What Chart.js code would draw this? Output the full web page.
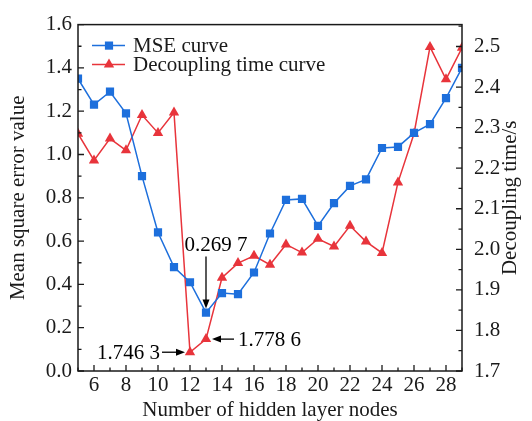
<!DOCTYPE html>
<html>
<head>
<meta charset="utf-8">
<script src="https://cdn.jsdelivr.net/npm/chart.js@4.4.1/dist/chart.umd.min.js"></script>
<style>
  html, body { margin: 0; padding: 0; background: #fff; }
  #wrap { width: 532px; height: 421px; }
</style>
</head>
<body>
<div id="wrap"><canvas id="chart"></canvas></div>
<script>
// number of hidden layer nodes
const nodes = [5, 6, 7, 8, 9, 10, 11, 12, 13, 14, 15, 16, 17, 18, 19, 20, 21, 22, 23, 24, 25, 26, 27, 28, 29];
// MSE (left axis)
const mseValues = [1.35, 1.23, 1.29, 1.19, 0.90, 0.64, 0.48, 0.41, 0.2697, 0.36, 0.355, 0.455, 0.635, 0.79, 0.795,
    0.67, 0.775, 0.855, 0.885, 1.03, 1.035, 1.10, 1.14, 1.26, 1.40];
// decoupling time in s (right axis)
const timeValues = [2.285, 2.219, 2.273, 2.244, 2.331, 2.287, 2.337, 1.7463, 1.7786, 1.930, 1.966, 1.984, 1.962,
    2.012, 1.992, 2.026, 2.007, 2.058, 2.019, 1.991, 2.165, 2.285, 2.499, 2.419, 2.497];

const xTicks = [6, 8, 10, 12, 14, 16, 18, 20, 22, 24, 26, 28];
const mseTicks = [0, 0.2, 0.4, 0.6, 0.8, 1.0, 1.2, 1.4, 1.6];
const timeTicks = [1.7, 1.8, 1.9, 2.0, 2.1, 2.2, 2.3, 2.4, 2.5];

const rightTitle = 'Decoupling time/s';

// labelled points
const callouts = [
    { x: 13, y: 0.2697, axis: 'y', text: '0.269 7', dir: 'down' },
    { x: 12, y: 1.7463, axis: 'y2', text: '1.746 3', dir: 'right' },
    { x: 13, y: 1.7786, axis: 'y2', text: '1.778 6', dir: 'left' }
];

const BLUE = '#1d6fdc';
const RED = '#e8343b';
const INK = '#1a1a1a';
const FONT = '21px "Liberation Serif", "Times New Roman", serif';

Chart.defaults.font.family = '"Liberation Serif", "Times New Roman", serif';
Chart.defaults.font.size = 21;
Chart.defaults.color = INK;

function minorOf(ticks, min, max) {
    const out = [];
    const step = ticks[1] - ticks[0];
    const first = ticks[0] - step / 2;
    for (let v = first; v <= max + 1e-9; v += step) {
        if (v >= min - 1e-9) out.push(v);
    }
    return out;
}

function drawArrow(ctx, x1, y1, x2, y2) {
    const ang = Math.atan2(y2 - y1, x2 - x1);
    const len = 9, half = 3.5;
    ctx.beginPath();
    ctx.moveTo(x1, y1);
    ctx.lineTo(x2 - Math.cos(ang) * len * 0.8, y2 - Math.sin(ang) * len * 0.8);
    ctx.stroke();
    ctx.beginPath();
    ctx.moveTo(x2, y2);
    ctx.lineTo(x2 - Math.cos(ang) * len - Math.sin(ang) * half, y2 - Math.sin(ang) * len + Math.cos(ang) * half);
    ctx.lineTo(x2 - Math.cos(ang) * len + Math.sin(ang) * half, y2 - Math.sin(ang) * len - Math.cos(ang) * half);
    ctx.closePath();
    ctx.fill();
}

// frame, inward tick marks, right title, legend and callouts
const decorPlugin = {
    id: 'decor',
    afterDatasetsDraw(chart) {
        const ctx = chart.ctx;
        const a = chart.chartArea;
        const sx = chart.scales.x, sy = chart.scales.y, sy2 = chart.scales.y2;
        ctx.save();
        ctx.strokeStyle = INK;
        ctx.fillStyle = INK;

        // ticks
        ctx.lineWidth = 1.3;
        ctx.beginPath();
        const tick = (list, len, fn) => list.forEach(v => fn(v, len));
        const onX = (v, len) => { const p = sx.getPixelForValue(v); ctx.moveTo(p, a.bottom); ctx.lineTo(p, a.bottom - len); };
        const onY = (v, len) => { const p = sy.getPixelForValue(v); ctx.moveTo(a.left, p); ctx.lineTo(a.left + len, p); };
        const onY2 = (v, len) => { const p = sy2.getPixelForValue(v); ctx.moveTo(a.right, p); ctx.lineTo(a.right - len, p); };
        tick(xTicks, 6, onX);
        tick(minorOf(xTicks, sx.min, sx.max), 3.5, onX);
        tick(mseTicks, 6, onY);
        tick(minorOf(mseTicks, sy.min, sy.max), 3.5, onY);
        tick(timeTicks, 6, onY2);
        tick(minorOf(timeTicks, sy2.min, sy2.max), 3.5, onY2);
        ctx.stroke();

        // frame
        ctx.lineWidth = 1.5;
        ctx.strokeRect(a.left, a.top, a.right - a.left, a.bottom - a.top);

        ctx.font = FONT;
        ctx.textBaseline = 'middle';

        // right axis title, read bottom to top
        ctx.save();
        ctx.translate(sy2.right - 22, (a.top + a.bottom) / 2);
        ctx.rotate(-Math.PI / 2);
        ctx.textAlign = 'center';
        ctx.fillText(rightTitle, 0, 0);
        ctx.restore();

        // legend
        ctx.textAlign = 'left';
        chart.data.datasets.forEach((ds, i) => {
            const y = a.top + 21 + i * 19;
            ctx.strokeStyle = ds.borderColor;
            ctx.lineWidth = 1.5;
            ctx.beginPath();
            ctx.moveTo(a.left + 14, y);
            ctx.lineTo(a.left + 47, y);
            ctx.stroke();
            ctx.fillStyle = ds.pointBackgroundColor;
            Chart.helpers.drawPoint(ctx, { pointStyle: ds.pointStyle, radius: ds.pointRadius, rotation: 0, borderWidth: 0 }, a.left + 31, y);
            ctx.fillStyle = INK;
            ctx.fillText(ds.label, a.left + 55, y + 1);
        });

        // callouts
        ctx.strokeStyle = '#000';
        ctx.fillStyle = '#000';
        ctx.lineWidth = 1.3;
        callouts.forEach(c => {
            const px = sx.getPixelForValue(c.x);
            const py = chart.scales[c.axis].getPixelForValue(c.y);
            if (c.dir === 'down') {
                drawArrow(ctx, px, py - 56, px, py - 4);
                ctx.textAlign = 'center';
                ctx.fillText(c.text, px + 10, py - 67);
            } else if (c.dir === 'right') {
                drawArrow(ctx, px - 28, py, px - 5, py);
                ctx.textAlign = 'right';
                ctx.fillText(c.text, px - 30, py + 1);
            } else {
                drawArrow(ctx, px + 28, py, px + 6, py);
                ctx.textAlign = 'left';
                ctx.fillText(c.text, px + 32, py + 1);
            }
        });
        ctx.restore();
    }
};

const ctx = document.getElementById('chart').getContext('2d');
const chart = new Chart(ctx, {
    type: 'line',
    data: {
        datasets: [
            {
                label: 'MSE curve',
                data: nodes.map((n, i) => ({ x: n, y: mseValues[i] })),
                yAxisID: 'y',
                borderColor: BLUE,
                backgroundColor: BLUE,
                pointBackgroundColor: BLUE,
                pointBorderWidth: 0,
                pointStyle: 'rect',
                pointRadius: 5.8,
                borderWidth: 1.5,
                tension: 0
            },
            {
                label: 'Decoupling time curve',
                data: nodes.map((n, i) => ({ x: n, y: timeValues[i] })),
                yAxisID: 'y2',
                borderColor: RED,
                backgroundColor: RED,
                pointBackgroundColor: RED,
                pointBorderWidth: 0,
                pointStyle: 'triangle',
                pointRadius: 6,
                borderWidth: 1.5,
                tension: 0
            }
        ]
    },
    options: {
        responsive: true,
        maintainAspectRatio: false,
        animation: false,
        layout: { padding: { top: 15, left: 0, right: 0, bottom: 0 } },
        plugins: { legend: { display: false }, tooltip: { enabled: false } },
        scales: {
            x: {
                type: 'linear',
                min: 5,
                max: 29,
                grid: { display: false, drawTicks: false },
                border: { display: false },
                afterBuildTicks: s => { s.ticks = xTicks.map(v => ({ value: v })); },
                afterFit: s => { s.height = 50; },
                ticks: { padding: 2, maxRotation: 0, autoSkip: false },
                title: { display: true, text: 'Number of hidden layer nodes', padding: { top: 0, bottom: -2 } }
            },
            y: {
                position: 'left',
                min: 0,
                max: 1.6,
                grid: { display: false, drawTicks: false },
                border: { display: false },
                afterBuildTicks: s => { s.ticks = mseTicks.map(v => ({ value: v })); },
                afterFit: s => { s.width = 78; },
                ticks: { padding: 6, callback: v => v.toFixed(1) },
                title: { display: true, text: 'Mean square error value', padding: { top: 6, bottom: 0 } }
            },
            y2: {
                position: 'right',
                min: 1.7,
                max: 2.554,
                grid: { display: false, drawTicks: false },
                border: { display: false },
                afterBuildTicks: s => { s.ticks = timeTicks.map(v => ({ value: v })); },
                afterFit: s => { s.width = 70; },
                ticks: { padding: 12, callback: v => v.toFixed(1) }
            }
        }
    },
    plugins: [decorPlugin]
});
</script>
</body>
</html>
